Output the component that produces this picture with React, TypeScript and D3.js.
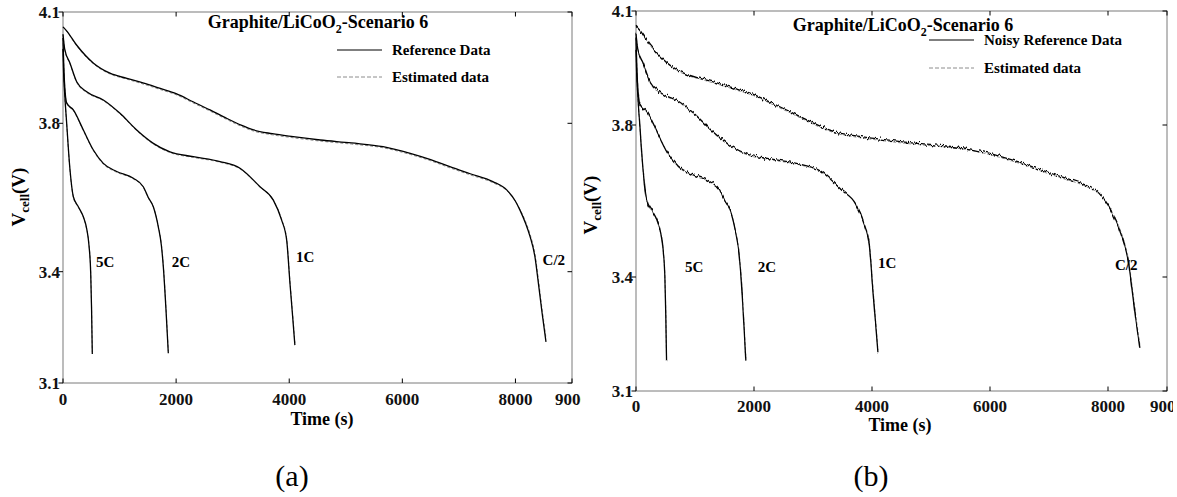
import React from 'react';
import * as d3 from 'd3';

// Discharge curves, graphite/LiCoO2 cell, scenario 6 (time in s, cell voltage in V)
const tHalfC = [0, 60, 240, 540, 830, 1130, 1500, 1720, 2000, 2300, 2600, 2900, 3150, 3370, 3700, 4070, 4550, 5100, 5660, 6140, 6500, 6840, 7200, 7600, 7850, 8000, 8080, 8180, 8260, 8345, 8405, 8470, 8540];
const vHalfC = [4.060, 4.050, 4.011, 3.962, 3.935, 3.921, 3.905, 3.894, 3.880, 3.858, 3.836, 3.813, 3.795, 3.782, 3.772, 3.764, 3.755, 3.747, 3.737, 3.719, 3.702, 3.683, 3.664, 3.643, 3.620, 3.590, 3.566, 3.530, 3.494, 3.440, 3.370, 3.290, 3.211];
const vHalfCEst = [4.060, 4.049, 4.009, 3.960, 3.933, 3.919, 3.902, 3.891, 3.877, 3.855, 3.833, 3.810, 3.792, 3.779, 3.769, 3.761, 3.752, 3.744, 3.734, 3.716, 3.699, 3.680, 3.661, 3.640, 3.618, 3.590, 3.568, 3.535, 3.500, 3.448, 3.380, 3.300, 3.222];

const t1C = [0, 30, 124, 242, 419, 713, 1008, 1303, 1597, 1892, 2304, 2776, 3130, 3483, 3719, 3866, 3955, 4013, 4060, 4100];
const v1C = [4.040, 4.000, 3.962, 3.912, 3.885, 3.863, 3.827, 3.782, 3.746, 3.723, 3.710, 3.697, 3.679, 3.629, 3.593, 3.539, 3.485, 3.369, 3.280, 3.202];
const v1CEst = [4.040, 3.999, 3.960, 3.910, 3.883, 3.861, 3.825, 3.780, 3.744, 3.721, 3.708, 3.695, 3.677, 3.628, 3.593, 3.541, 3.489, 3.375, 3.287, 3.208];

const t2C = [0, 20, 65, 183, 360, 537, 713, 949, 1244, 1420, 1508, 1597, 1685, 1740, 1774, 1820, 1862];
const v2C = [4.030, 3.930, 3.855, 3.836, 3.782, 3.728, 3.692, 3.670, 3.652, 3.629, 3.600, 3.575, 3.521, 3.470, 3.413, 3.300, 3.180];
const v2CEst = [4.030, 3.929, 3.853, 3.834, 3.780, 3.726, 3.690, 3.668, 3.650, 3.627, 3.599, 3.575, 3.523, 3.474, 3.418, 3.306, 3.186];

const t5C = [0, 10, 30, 65, 124, 183, 271, 360, 420, 460, 490, 505, 518];
const v5C = [4.000, 3.940, 3.880, 3.800, 3.674, 3.602, 3.575, 3.548, 3.515, 3.470, 3.396, 3.300, 3.178];
const v5CEst = [4.000, 3.939, 3.878, 3.798, 3.672, 3.600, 3.573, 3.546, 3.514, 3.472, 3.400, 3.306, 3.184];

const curveNames = ['C/2', '1C', '2C', '5C'];
const xTickValues = [0, 2000, 4000, 6000, 8000, 9000];
const yTickValues = [3.1, 3.4, 3.8, 4.1];
const xDomain = [0, 9000];
const yDomain = [3.1, 4.1];

const series = [
  { name: curveNames[0], t: tHalfC, ref: vHalfC, est: vHalfCEst },
  { name: curveNames[1], t: t1C, ref: v1C, est: v1CEst },
  { name: curveNames[2], t: t2C, ref: v2C, est: v2CEst },
  { name: curveNames[3], t: t5C, ref: v5C, est: v5CEst },
];

const FONT = '"Liberation Serif", "Times New Roman", serif';

const panels = [
  {
    id: 'a', x0: 63, x1: 572, y0: 12, y1: 383, noisy: false,
    refLabel: 'Reference Data',
    titleX: 318, titleY: 28,
    legX: 337, legY1: 50, legY2: 77,
    xLabelX: 322, xLabelY: 425, xTickDy: 22,
    yLabelX: 25, yLabelY: 197,
    tag: '(a)', tagX: 292, tagY: 486,
    clipRight: 581,
    labelAt: [[8480, 3.418], [4120, 3.426], [1922, 3.413], [583, 3.413]],
  },
  {
    id: 'b', x0: 636, x1: 1167, y0: 11, y1: 391, noisy: true,
    refLabel: 'Noisy Reference Data',
    titleX: 903, titleY: 31,
    legX: 929, legY1: 40, legY2: 68,
    xLabelX: 900, xLabelY: 431, xTickDy: 21,
    yLabelX: 597, yLabelY: 205,
    tag: '(b)', tagX: 871, tagY: 486,
    clipRight: 1173,
    labelAt: [[8119, 3.418], [4102, 3.424], [2063, 3.413], [830, 3.413]],
  },
];

function Panel({ p }: { p: typeof panels[number] }) {
  const x = d3.scaleLinear().domain(xDomain).range([p.x0, p.x1]);
  const y = d3.scaleLinear().domain(yDomain).range([p.y1, p.y0]);
  const line = d3
    .line<[number, number]>()
    .x((d) => x(d[0]))
    .y((d) => y(d[1]))
    .curve(d3.curveMonotoneX);
  const clipId = `clip-${p.id}`;
  const noiseId = `noise-${p.id}`;
  const tick = 4.5;

  return (
    <g clipPath={`url(#${clipId})`} fontFamily={FONT}>
      <defs>
        <clipPath id={clipId}>
          <rect x={p.x0 - 70} y={0} width={p.clipRight - (p.x0 - 70)} height={497} />
        </clipPath>
        <filter
          id={noiseId}
          filterUnits="userSpaceOnUse"
          x={p.x0 - 10}
          y={p.y0 - 10}
          width={p.x1 - p.x0 + 20}
          height={p.y1 - p.y0 + 20}
          colorInterpolationFilters="sRGB"
        >
          <feTurbulence type="fractalNoise" baseFrequency="0.55 0.03" numOctaves={2} seed={7} result="n" />
          <feColorMatrix
            in="n"
            type="matrix"
            values="0 0 0 0 0.5  0 1 0 0 0  0 0 0 0 0.5  0 0 0 0 1"
            result="m"
          />
          <feDisplacementMap in="SourceGraphic" in2="m" scale={6} xChannelSelector="R" yChannelSelector="G" />
        </filter>
      </defs>

      {/* frame */}
      <rect x={p.x0} y={p.y0} width={p.x1 - p.x0} height={p.y1 - p.y0} fill="none" stroke="#7a7a7a" strokeWidth={1} />

      {/* x ticks: inward at bottom and top */}
      {xTickValues.map((v) => (
        <g key={`xt${v}`} stroke="#000" strokeWidth={1}>
          <line x1={x(v)} x2={x(v)} y1={p.y1} y2={p.y1 - tick} />
          <line x1={x(v)} x2={x(v)} y1={p.y0} y2={p.y0 + tick} />
        </g>
      ))}
      {xTickValues.map((v) => (
        <text key={`xl${v}`} x={x(v)} y={p.y1 + p.xTickDy} textAnchor="middle" fontSize={17} fontWeight="bold" fill="#111">
          {String(v)}
        </text>
      ))}

      {/* y ticks: outward on left, inward on right */}
      {yTickValues.map((v) => (
        <g key={`yt${v}`} stroke="#000" strokeWidth={1}>
          <line x1={p.x0 - tick} x2={p.x0} y1={y(v)} y2={y(v)} />
          <line x1={p.x1 - tick} x2={p.x1} y1={y(v)} y2={y(v)} />
        </g>
      ))}
      {yTickValues.map((v) => (
        <text key={`yl${v}`} x={p.x0 - 3} y={y(v)} dy="0.35em" textAnchor="end" fontSize={17} fontWeight="bold" fill="#111">
          {v.toFixed(1)}
        </text>
      ))}

      {/* estimated (dashed) and reference (solid) curves */}
      {series.map((s) => (
        <path
          key={`est${s.name}`}
          d={line(s.t.map((t, i) => [t, s.est[i]] as [number, number])) || ''}
          fill="none"
          stroke="#8c8c8c"
          strokeWidth={1}
          strokeDasharray="3,2"
        />
      ))}
      <g filter={p.noisy ? `url(#${noiseId})` : undefined}>
        {series.map((s) => (
          <path
            key={`ref${s.name}`}
            d={line(s.t.map((t, i) => [t, s.ref[i]] as [number, number])) || ''}
            fill="none"
            stroke="#000"
            strokeWidth={1.3}
          />
        ))}
      </g>

      {/* curve labels */}
      {series.map((s, i) => (
        <text key={`cl${s.name}`} x={x(p.labelAt[i][0])} y={y(p.labelAt[i][1])} fontSize={15} fontWeight="bold" fill="#000">
          {s.name}
        </text>
      ))}

      {/* title */}
      <text x={p.titleX} y={p.titleY} textAnchor="middle" fontSize={18} fontWeight="bold" fill="#000">
        Graphite/LiCoO
        <tspan fontSize={12} dy={5}>2</tspan>
        <tspan dy={-5}>-Scenario 6</tspan>
      </text>

      {/* legend */}
      <line x1={p.legX} x2={p.legX + 45} y1={p.legY1} y2={p.legY1} stroke="#000" strokeWidth={1.2} />
      <text x={p.legX + 55} y={p.legY1 + 5} fontSize={15} fontWeight="bold" fill="#000">{p.refLabel}</text>
      <line x1={p.legX} x2={p.legX + 45} y1={p.legY2} y2={p.legY2} stroke="#8c8c8c" strokeWidth={1} strokeDasharray="4,2" />
      <text x={p.legX + 55} y={p.legY2 + 5} fontSize={15} fontWeight="bold" fill="#000">Estimated data</text>

      {/* axis titles */}
      <text x={p.xLabelX} y={p.xLabelY} textAnchor="middle" fontSize={18} fontWeight="bold" fill="#000">Time (s)</text>
      <text
        transform={`translate(${p.yLabelX},${p.yLabelY}) rotate(-90)`}
        textAnchor="middle"
        fontSize={19}
        fontWeight="bold"
        fill="#000"
      >
        V<tspan fontSize={13} dy={4}>cell</tspan>
        <tspan dy={-4}>(V)</tspan>
      </text>

      {/* panel tag */}
      <text x={p.tagX} y={p.tagY} textAnchor="middle" fontSize={30} fill="#000">{p.tag}</text>
    </g>
  );
}

export default function App() {
  return (
    <svg
      width={1177}
      height={497}
      viewBox="0 0 1177 497"
      style={{ position: 'absolute', left: 0, top: 0, background: '#fff' }}
    >
      <rect x={0} y={0} width={1177} height={497} fill="#fff" />
      {panels.map((p) => (
        <Panel key={p.id} p={p} />
      ))}
    </svg>
  );
}
